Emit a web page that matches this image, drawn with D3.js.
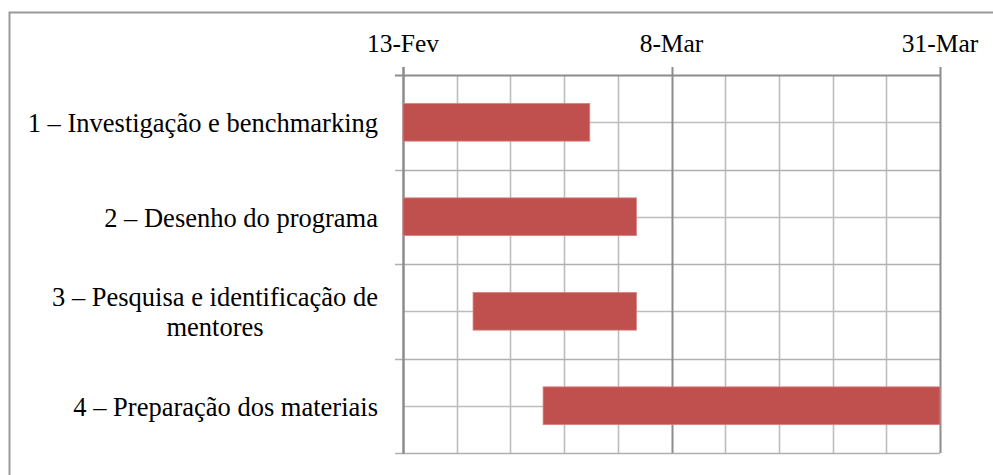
<!DOCTYPE html>
<html>
<head>
<meta charset="utf-8">
<script src="https://cdn.jsdelivr.net/npm/d3@7"></script>
<style>
  html, body { margin: 0; padding: 0; background: #fff; }
  svg { display: block; }
</style>
</head>
<body>
<svg id="chart" width="993" height="475"></svg>
<script>
// ---- data ----
const tasks = [
  "1 – Investigação e benchmarking",
  "2 – Desenho do programa",
  "3 – Pesquisa e identificação de mentores",
  "4 – Preparação dos materiais"
];
const startDates = ["2013-02-13", "2013-02-13", "2013-02-19", "2013-02-25"];
const endDates   = ["2013-03-01", "2013-03-05", "2013-03-05", "2013-03-31"];
const tickDates  = ["2013-02-13", "2013-03-08", "2013-03-31"];
const tickLabels = ["13-Fev", "8-Mar", "31-Mar"];

// ---- layout ----
const parse = d3.utcParse("%Y-%m-%d");
const svg = d3.select("#chart");
const pLeft = 403, pRight = 940, pTop = 75, pBottom = 453;
const tickFont = 25.5, catFont = 26.5;
const fontFam = "Liberation Serif";

const x = d3.scaleUtc()
  .domain([parse(tickDates[0]), parse(tickDates[tickDates.length - 1])])
  .range([pLeft, pRight]);
const y = d3.scaleBand().domain(tasks).range([pTop, pBottom])
  .paddingInner(0.6).paddingOuter(0.3);

// outer frame (only left and top visible)
svg.append("path")
  .attr("d", `M9.5,475 L9.5,12.5 L993,12.5`)
  .attr("fill", "none").attr("stroke", "#9a9a9a").attr("stroke-width", 2);

// minor vertical gridlines (5 per major interval)
const t0 = parse(tickDates[0]).getTime();
const majorStep = parse(tickDates[1]).getTime() - t0;
const minorStep = majorStep / 5;
const totalSteps = Math.round((parse(tickDates[tickDates.length - 1]).getTime() - t0) / minorStep);
const minorDates = d3.range(1, totalSteps).map(i => new Date(t0 + i * minorStep));

const grid = svg.append("g");
grid.selectAll(".vminor").data(minorDates.filter((d, i) => (i + 1) % 5 !== 0)).enter()
  .append("line")
  .attr("x1", d => Math.round(x(d)) + 0.5).attr("x2", d => Math.round(x(d)) + 0.5)
  .attr("y1", pTop).attr("y2", pBottom)
  .attr("stroke", "#bdbdbd").attr("stroke-width", 1.6);

// horizontal gridlines: band centers (minor) and band boundaries
const bandStep = y.step();
const boundaries = d3.range(0, tasks.length + 1).map(i => y(tasks[0]) - bandStep * y.paddingInner() / 2 + i * bandStep);
const centers = tasks.map(t => y(t) + y.bandwidth() / 2);

grid.selectAll(".hcenter").data(centers).enter().append("line")
  .attr("x1", pLeft).attr("x2", pRight)
  .attr("y1", d => Math.round(d) + 0.5).attr("y2", d => Math.round(d) + 0.5)
  .attr("stroke", "#bdbdbd").attr("stroke-width", 1.6);

grid.selectAll(".hbound").data(boundaries.slice(1)).enter().append("line")
  .attr("x1", pLeft - 8).attr("x2", pRight)
  .attr("y1", d => Math.round(d) + 0.5).attr("y2", d => Math.round(d) + 0.5)
  .attr("stroke", "#b0b0b0").attr("stroke-width", 1.6);

// major vertical gridlines
grid.selectAll(".vmajor").data(tickDates.map(parse)).enter().append("line")
  .attr("x1", d => Math.round(x(d)) + 0.5).attr("x2", d => Math.round(x(d)) + 0.5)
  .attr("y1", pTop - 8).attr("y2", pBottom)
  .attr("stroke", "#8c8c8c").attr("stroke-width", 2);

// top axis line
svg.append("line")
  .attr("x1", pLeft).attr("x2", pRight + 1)
  .attr("y1", pTop + 0.5).attr("y2", pTop + 0.5)
  .attr("stroke", "#8c8c8c").attr("stroke-width", 2);

// left axis line
svg.append("line")
  .attr("x1", pLeft + 0.5).attr("x2", pLeft + 0.5)
  .attr("y1", pTop - 8).attr("y2", pBottom + 1)
  .attr("stroke", "#8c8c8c").attr("stroke-width", 2);
svg.append("line")
  .attr("x1", pLeft - 8).attr("x2", pLeft)
  .attr("y1", pTop + 0.5).attr("y2", pTop + 0.5)
  .attr("stroke", "#8c8c8c").attr("stroke-width", 2);

// top tick labels
svg.append("g").selectAll("text").data(tickDates).enter().append("text")
  .attr("x", d => x(parse(d)))
  .attr("y", 52)
  .attr("text-anchor", "middle")
  .attr("font-family", fontFam)
  .attr("font-size", tickFont)
  .attr("fill", "#000")
  .text((d, i) => tickLabels[i]);

// bars
svg.append("g").selectAll("rect").data(tasks).enter().append("rect")
  .attr("x", (d, i) => x(parse(startDates[i])))
  .attr("y", d => y(d))
  .attr("width", (d, i) => x(parse(endDates[i])) - x(parse(startDates[i])))
  .attr("height", y.bandwidth())
  .attr("fill", "#C0504D")
  .attr("stroke", "#d98583").attr("stroke-width", 0.8);

// category labels (wrapped, block right-aligned, lines centered)
const labelRight = 378;
const maxW = 365;
const lineH = 30;
const labels = svg.append("g")
  .attr("font-family", fontFam)
  .attr("font-size", catFont)
  .attr("fill", "#000");
tasks.forEach(t => {
  const words = t.split(" ");
  const meas = labels.append("text").attr("visibility", "hidden");
  const lines = [];
  let cur = [];
  words.forEach(w => {
    const trial = cur.concat([w]).join(" ");
    meas.text(trial);
    if (meas.node().getComputedTextLength() > maxW && cur.length) {
      lines.push(cur.join(" "));
      cur = [w];
    } else cur.push(w);
  });
  lines.push(cur.join(" "));
  const widths = lines.map(l => { meas.text(l); return meas.node().getComputedTextLength(); });
  meas.remove();
  const blockW = d3.max(widths);
  const cx = labelRight - blockW / 2;
  const cy = y(t) + y.bandwidth() / 2;
  const firstBase = cy - (lines.length - 1) * lineH / 2 + 10;
  lines.forEach((l, i) => {
    labels.append("text")
      .attr("x", lines.length > 1 ? cx : labelRight)
      .attr("y", firstBase + i * lineH)
      .attr("text-anchor", lines.length > 1 ? "middle" : "end")
      .text(l);
  });
});
</script>
</body>
</html>
